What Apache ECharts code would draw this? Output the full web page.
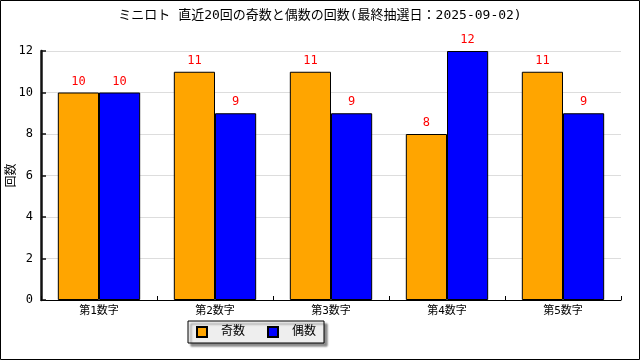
<!DOCTYPE html>
<html>
<head>
<meta charset="utf-8">
<script src="https://cdn.jsdelivr.net/npm/echarts@6/dist/echarts.min.js"></script>
<style>html,body{margin:0;padding:0;background:#fff}#c{width:640px;height:360px}</style>
</head>
<body>
<div id="c"></div>
<script>
const titleText = 'ミニロト 直近20回の奇数と偶数の回数(最終抽選日：2025-09-02)';
const categories = ['第1数字', '第2数字', '第3数字', '第4数字', '第5数字'];
const oddCounts = [10, 11, 11, 8, 11];
const evenCounts = [10, 9, 9, 12, 9];
const yTicks = { min: 0, max: 12, interval: 2 };

const FONT = '"DejaVu Sans Mono", "Noto Sans CJK JP", sans-serif';
const chart = echarts.init(document.getElementById('c'), null, { renderer: 'canvas' });
chart.setOption({
  animation: false,
  backgroundColor: '#fff',
  title: {
    text: titleText,
    left: 'center',
    top: 4,
    textStyle: { fontFamily: FONT, fontSize: 13, fontWeight: 'normal', color: '#000' }
  },
  legend: {
    left: 188,
    top: 321,
    orient: 'horizontal',
    itemWidth: 10,
    itemHeight: 10,
    itemGap: 22,
    padding: [5, 8, 5, 8],
    backgroundColor: '#eeeeee',
    borderColor: '#000',
    borderWidth: 1,
    shadowColor: 'rgba(0,0,0,0.45)',
    shadowBlur: 2,
    shadowOffsetX: 3,
    shadowOffsetY: 3,
    icon: 'rect',
    textStyle: { fontFamily: FONT, fontSize: 12, color: '#000', padding: [0, 0, 0, 9] },
    data: ['奇数', '偶数']
  },
  grid: { left: 41, right: 19, top: 51, bottom: 60, containLabel: false, outerBoundsMode: 'none' },
  xAxis: {
    type: 'category',
    data: categories,
    axisLine: { show: true, lineStyle: { color: '#000', width: 1 } },
    axisTick: { show: true, inside: true, length: 4, alignWithLabel: false, lineStyle: { color: '#000' } },
    axisLabel: { fontFamily: FONT, fontSize: 11, color: '#000', margin: 6 },
    splitLine: { show: false }
  },
  yAxis: {
    type: 'value',
    min: yTicks.min,
    max: yTicks.max,
    interval: yTicks.interval,
    name: '回数',
    nameLocation: 'middle',
    nameRotate: 90,
    nameGap: 23,
    nameMoveOverlap: false,
    nameTextStyle: { fontFamily: FONT, fontSize: 12, color: '#000' },
    axisLine: { show: true, lineStyle: { color: '#111111', width: 2.5 } },
    axisTick: { show: true, inside: true, length: 5, lineStyle: { color: '#111111', width: 1.5 } },
    axisLabel: { fontFamily: FONT, fontSize: 12, color: '#000', margin: 8 },
    splitLine: { show: true, lineStyle: { color: '#dddddd', width: 1 } }
  },
  series: [
    {
      name: '奇数',
      type: 'bar',
      data: oddCounts,
      barGap: '0%',
      barCategoryGap: '29%',
      itemStyle: { color: '#FFA500', borderColor: '#000', borderWidth: 1 },
      label: { show: true, position: 'top', distance: 5, color: '#ff0000', fontFamily: FONT, fontSize: 12 }
    },
    {
      name: '偶数',
      type: 'bar',
      data: evenCounts,
      barGap: '0%',
      barCategoryGap: '29%',
      itemStyle: { color: '#0000FF', borderColor: '#000', borderWidth: 1 },
      label: { show: true, position: 'top', distance: 5, color: '#ff0000', fontFamily: FONT, fontSize: 12 }
    }
  ],
  graphic: [
    {
      type: 'rect',
      silent: true,
      z: 100,
      shape: { x: 0.5, y: 0.5, width: 639, height: 359 },
      style: { fill: 'none', stroke: '#000', lineWidth: 1 }
    }
  ]
});
</script>
</body>
</html>
